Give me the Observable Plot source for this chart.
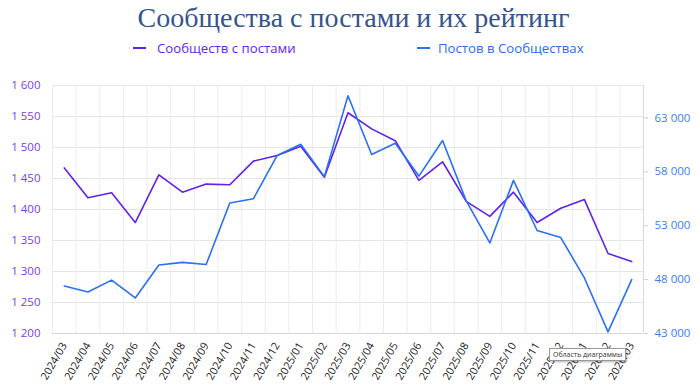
<!DOCTYPE html>
<html><head><meta charset="utf-8">
<script src="https://cdn.jsdelivr.net/npm/d3@7"></script>
<script src="https://cdn.jsdelivr.net/npm/@observablehq/plot@0.6"></script>
<style>
body{margin:0;background:#fff;width:700px;height:389px;overflow:hidden;position:relative;font-family:"Open Sans",sans-serif}
#title{position:absolute;left:0;width:707px;top:1px;text-align:center;font-family:"Liberation Serif",serif;font-size:28px;line-height:34px;color:#34548F;white-space:nowrap}
.lg{position:absolute;top:38px;font-size:13.2px;line-height:20px;white-space:nowrap}
.sw{position:absolute;width:13px;height:2px;top:47px}
#chart{position:absolute;left:0;top:62px}
#tip{position:absolute;left:549px;top:348px;font-size:7px;line-height:9px;padding:1px 3px;border:1px solid #999;background:#fff;color:#333;box-shadow:1px 1px 2px rgba(0,0,0,.3);white-space:nowrap}
</style></head><body>
<div id="title">Сообщества с постами и их рейтинг</div>
<div class="sw" style="left:133px;background:#6020EE"></div>
<div class="lg" style="left:157px;color:#6324F0">Сообществ с постами</div>
<div class="sw" style="left:417px;background:#2A70F5"></div>
<div class="lg" style="left:438px;color:#2A6CF0">Постов в Сообществах</div>
<div id="chart"></div>
<div id="tip">Область диаграммы</div>
<script>
const months = ["2024/03","2024/04","2024/05","2024/06","2024/07","2024/08","2024/09","2024/10","2024/11","2024/12","2025/01","2025/02","2025/03","2025/04","2025/05","2025/06","2025/07","2025/08","2025/09","2025/10","2025/11","2025/12","2026/01","2026/02","2026/03"];
const communities = [1467,1419,1427,1379,1456,1428,1441,1440,1478,1487,1502,1452,1556,1530,1511,1447,1477,1413,1389,1428,1379,1402,1416,1329,1316];
const posts = [47400,46850,47950,46300,49350,49600,49400,55100,55500,59500,60550,57550,65050,59600,60650,57600,60900,55300,51400,57200,52550,51900,48150,43150,48000];
const leftTicks = [1200,1250,1300,1350,1400,1450,1500,1550,1600];
const rightTicks = [43000,48000,53000,58000,63000];
const leftDomain = [1200,1600];
const rightDomain = [43000,66000];

const purple = "#6020EE", blue = "#2A70F5";
const toLeft = v => leftDomain[0] + (v - rightDomain[0]) * (leftDomain[1]-leftDomain[0]) / (rightDomain[1]-rightDomain[0]);
const fromLeft = v => rightDomain[0] + (v - leftDomain[0]) * (rightDomain[1]-rightDomain[0]) / (leftDomain[1]-leftDomain[0]);
const fmt = d3.formatLocale({decimal:",", thousands:"\u00a0", grouping:[3], currency:["",""]}).format(",");
const data = months.map((m,i)=>({i, m, c: communities[i], p: posts[i]}));
const idx = d3.range(months.length);
const bounds = d3.range(-0.5, months.length, 1);

const chart = Plot.plot({
  width: 700, height: 327,
  marginTop: 23, marginBottom: 56, marginLeft: 52, marginRight: 57,
  style: {fontFamily: "'Open Sans', sans-serif", background: "#fff"},
  x: {type: "linear", domain: [-0.5, months.length - 0.5], axis: null},
  y: {domain: leftDomain, axis: null},
  marks: [
    Plot.ruleY(leftTicks, {stroke: "#e4e4e4", strokeWidth: 1}),
    Plot.ruleX(bounds, {stroke: "#ececec", strokeWidth: 1}),
    Plot.ruleY([leftDomain[0]], {stroke: "#d6d6d6"}),
    Plot.ruleX([months.length - 0.5], {stroke: "#d9d9d9"}),
    Plot.axisY({ticks: leftTicks, tickSize: 0, tickPadding: 12, tickFormat: fmt, fill: "#7A3CF4", fontSize: 11.5, label: null}),
    Plot.axisY({anchor: "right", ticks: rightTicks.map(toLeft), tickSize: 4, tickPadding: 7, stroke: "#cfcfcf",
      tickFormat: d => fmt(Math.round(fromLeft(d))), fill: "#3D7CF5", fontSize: 11.5, label: null}),
    Plot.axisX({ticks: idx, tickFormat: i => months[i], tickSize: 0, tickRotate: -60, tickPadding: 10, fill: "#222", fontSize: 10.8, label: null}),
    Plot.line(data, {x: "i", y: "c", stroke: purple, strokeWidth: 1.6}),
    Plot.line(data, {x: "i", y: d => toLeft(d.p), stroke: blue, strokeWidth: 1.6})
  ]
});
document.getElementById("chart").appendChild(chart);
</script>
</body></html>
